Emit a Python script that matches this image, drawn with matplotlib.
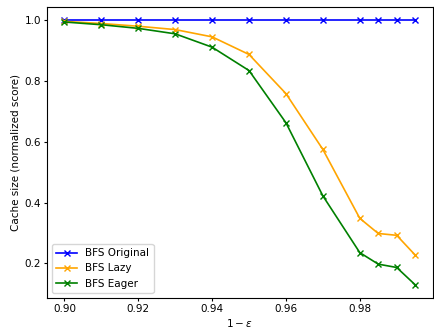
import matplotlib.pyplot as plt
import numpy as np

# x values (1 - epsilon)
eps = [0.90, 0.91, 0.92, 0.93, 0.94, 0.95, 0.96, 0.97, 0.98, 0.985, 0.99, 0.995]

# normalized cache sizes
bfs_original = [1.0] * 12
bfs_lazy = [0.997, 0.99, 0.981, 0.970, 0.946, 0.888, 0.759, 0.575, 0.348, 0.298, 0.292, 0.227]
bfs_eager = [0.995, 0.986, 0.974, 0.956, 0.912, 0.835, 0.663, 0.422, 0.235, 0.197, 0.186, 0.129]

fig, ax = plt.subplots(figsize=(4.34, 3.3), dpi=100)

ax.plot(eps, bfs_original, marker='x', ms=5, lw=1.2, color='blue', label='BFS Original')
ax.plot(eps, bfs_lazy, marker='x', ms=5, lw=1.2, color='orange', label='BFS Lazy')
ax.plot(eps, bfs_eager, marker='x', ms=5, lw=1.2, color='green', label='BFS Eager')

ax.set_xlabel(r'$1-\varepsilon$', fontsize=7.5, labelpad=2)
ax.set_ylabel('Cache size (normalized score)', fontsize=7.5, labelpad=3)
ax.tick_params(labelsize=7.5, length=2.2, pad=2)
ax.legend(loc='lower left', fontsize=7.5)

plt.subplots_adjust(left=0.108, right=0.997, top=0.978, bottom=0.097)
plt.savefig('out.png')
